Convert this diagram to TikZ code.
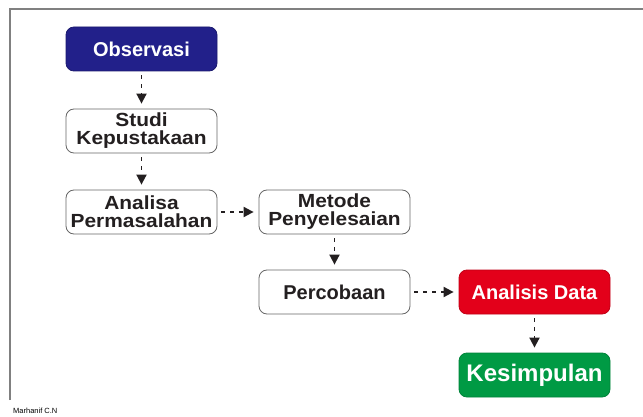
\documentclass[tikz,border=0pt]{standalone}
\usepackage{fontspec}
\setmainfont{Liberation Sans}
\newfontfamily\wideface{Liberation Sans}[FakeStretch=1.1]
\usetikzlibrary{arrows.meta}
\definecolor{obsblue}{RGB}{34,32,138}
\definecolor{datared}{RGB}{227,0,26}
\definecolor{kesgreen}{RGB}{0,154,68}
\definecolor{framegray}{RGB}{128,128,128}
\definecolor{inkblack}{RGB}{35,31,32}
\begin{document}
\begin{tikzpicture}[x=1pt,y=-1pt,
  stage/.style={draw=gray!80!black,line width=0.8pt,fill=white,text=inkblack,rounded corners=8pt,
    minimum width=151pt,minimum height=44pt,inner sep=0pt,align=center,
    font=\bfseries\fontsize{20}{20}\selectfont},
  twoline/.style={font=\wideface\bfseries\fontsize{19}{18}\selectfont},
  flow/.style={inkblack,line width=1.8pt,dash pattern=on 4pt off 5pt,
    -{Triangle[length=10pt,width=10pt]},shorten <=4pt,shorten >=5pt}]
  \useasboundingbox (0,0) rectangle (643,417);
  \draw[framegray,line width=1.2pt] (10,400) -- (10,9) -- (643,9);
  \node[stage,fill=obsblue,draw=obsblue!80!black,text=white] (obs) at (141.5,49) {Observasi};
  \node[stage,twoline] (studi) at (141.5,131) {Studi\\Kepustakaan};
  \node[stage,twoline] (masalah) at (141.5,212) {Analisa\\Permasalahan};
  \node[stage,twoline] (metode) at (334.5,212) {Metode\\Penyelesaian};
  \node[stage] (coba) at (334.5,292) {Percobaan};
  \node[stage,fill=datared,draw=datared!85!black,text=white] (data) at (534.5,292) {Analisis Data};
  \node[stage,fill=kesgreen,draw=kesgreen!85!black,text=white,
    font=\bfseries\fontsize{24}{24}\selectfont] (simpul) at (534.5,375) {Kesimpulan};
  \foreach \from/\to in {obs/studi,studi/masalah,masalah/metode,metode/coba,coba/data,data/simpul}
    \draw[flow] (\from) -- (\to);
  \node[anchor=base west,inner sep=0pt,font=\fontsize{7.5}{8}\selectfont] (sign) at (13,413) {Marhanif C.N};
\end{tikzpicture}
\end{document}
